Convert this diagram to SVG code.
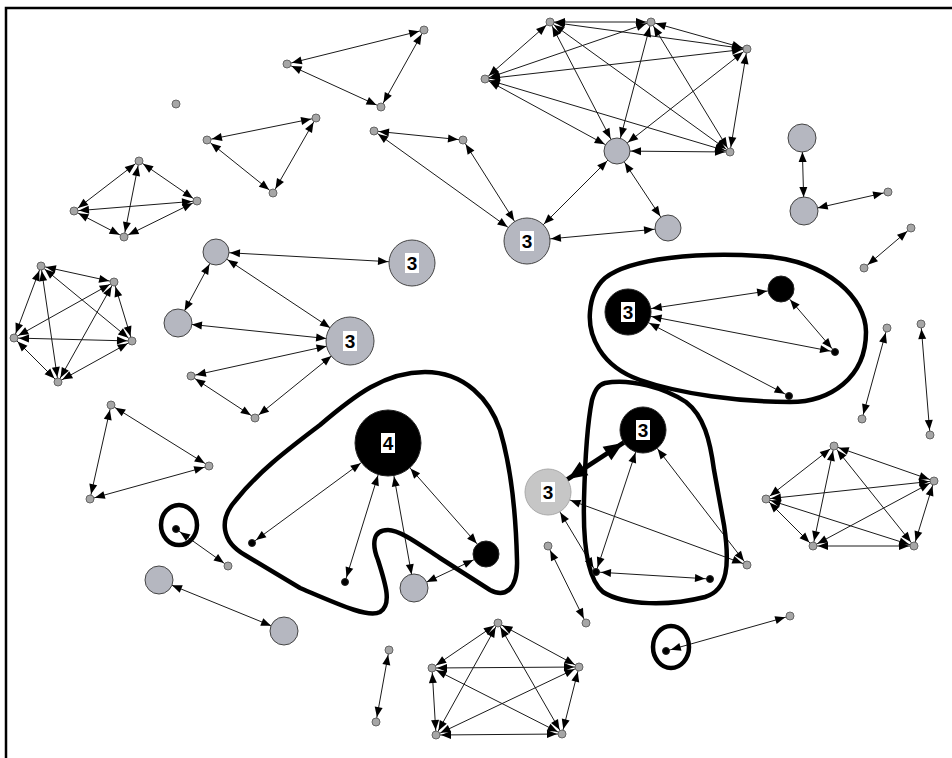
<svg xmlns="http://www.w3.org/2000/svg" width="952" height="758" viewBox="0 0 952 758">
<style>
#connectors line{stroke:#1a1a1a;stroke-width:1;marker-start:url(#as);marker-end:url(#as)}
#connectors line.ms{marker-start:url(#am)}
#connectors line.me{marker-end:url(#am)}
#connectors line.ls{marker-start:url(#al)}
#connectors line.le{marker-end:url(#al)}
#connectors line.xs{marker-start:url(#ax)}
#connectors line.thick{stroke:#000;stroke-width:4.5;marker-start:url(#bt);marker-end:url(#bt)}
.sn{fill:#a6a6a6;stroke:#666;stroke-width:1}
.mn{fill:#b5b7c0;stroke:#444;stroke-width:1}
.bn{fill:#000;stroke:#222;stroke-width:1}
.lt{fill:#c6c6c6;stroke:#aaa;stroke-width:1}
.lbl{fill:#fff}
text{font-family:"Liberation Sans",Arial,sans-serif;font-weight:bold;font-size:19px;text-anchor:middle;fill:#000}
.hull{fill:none;stroke:#000;stroke-width:4.5}
.frame{stroke:#000;stroke-width:2.5;fill:none}
</style>
<defs>
<marker id="as" markerUnits="userSpaceOnUse" orient="auto-start-reverse" overflow="visible" markerWidth="1" markerHeight="1"><path d="M-15,-4 L-5,0 L-15,4 Z" fill="#000"/></marker>
<marker id="am" markerUnits="userSpaceOnUse" orient="auto-start-reverse" overflow="visible" markerWidth="1" markerHeight="1"><path d="M-24,-4 L-14,0 L-24,4 Z" fill="#000"/></marker>
<marker id="al" markerUnits="userSpaceOnUse" orient="auto-start-reverse" overflow="visible" markerWidth="1" markerHeight="1"><path d="M-34,-4 L-24,0 L-34,4 Z" fill="#000"/></marker>
<marker id="ax" markerUnits="userSpaceOnUse" orient="auto-start-reverse" overflow="visible" markerWidth="1" markerHeight="1"><path d="M-44,-4 L-34,0 L-44,4 Z" fill="#000"/></marker>
<marker id="bt" markerUnits="userSpaceOnUse" orient="auto-start-reverse" overflow="visible" markerWidth="1" markerHeight="1"><path d="M-43,-8 L-24,0 L-43,8 Z" fill="#000"/></marker>
</defs>
<rect width="952" height="758" fill="#fff"/>
<path class="frame" d="M6,758 V8 H952"/>
<g id="connectors">
<line x1="139" y1="161" x2="74" y2="211"/>
<line x1="139" y1="161" x2="197" y2="201"/>
<line x1="139" y1="161" x2="124" y2="237"/>
<line x1="74" y1="211" x2="197" y2="201"/>
<line x1="74" y1="211" x2="124" y2="237"/>
<line x1="197" y1="201" x2="124" y2="237"/>
<line x1="287" y1="64" x2="424" y2="30"/>
<line x1="287" y1="64" x2="381" y2="107"/>
<line x1="424" y1="30" x2="381" y2="107"/>
<line x1="207" y1="140" x2="316" y2="118"/>
<line x1="207" y1="140" x2="273" y2="193"/>
<line x1="316" y1="118" x2="273" y2="193"/>
<line x1="374" y1="131" x2="463" y2="140"/>
<line class="le" x1="374" y1="131" x2="527" y2="241"/>
<line class="le" x1="463" y1="140" x2="527" y2="241"/>
<line x1="550" y1="22" x2="651" y2="22"/>
<line x1="550" y1="22" x2="485" y2="79"/>
<line x1="550" y1="22" x2="747" y2="49"/>
<line x1="550" y1="22" x2="730" y2="152"/>
<line class="me" x1="550" y1="22" x2="617" y2="151"/>
<line x1="651" y1="22" x2="485" y2="79"/>
<line x1="651" y1="22" x2="747" y2="49"/>
<line x1="651" y1="22" x2="730" y2="152"/>
<line class="me" x1="651" y1="22" x2="617" y2="151"/>
<line x1="485" y1="79" x2="747" y2="49"/>
<line x1="485" y1="79" x2="730" y2="152"/>
<line class="me" x1="485" y1="79" x2="617" y2="151"/>
<line x1="747" y1="49" x2="730" y2="152"/>
<line class="me" x1="747" y1="49" x2="617" y2="151"/>
<line class="me" x1="730" y1="152" x2="617" y2="151"/>
<line class="ms le" x1="617" y1="151" x2="527" y2="241"/>
<line class="ms me" x1="617" y1="151" x2="668" y2="228"/>
<line class="ls me" x1="527" y1="241" x2="668" y2="228"/>
<line class="ms me" x1="802" y1="138" x2="804" y2="211"/>
<line class="ms" x1="804" y1="211" x2="888" y2="192"/>
<line x1="911" y1="228" x2="864" y2="268"/>
<line x1="41" y1="266" x2="114" y2="282"/>
<line x1="41" y1="266" x2="14" y2="338"/>
<line x1="41" y1="266" x2="132" y2="341"/>
<line x1="41" y1="266" x2="58" y2="382"/>
<line x1="114" y1="282" x2="14" y2="338"/>
<line x1="114" y1="282" x2="132" y2="341"/>
<line x1="114" y1="282" x2="58" y2="382"/>
<line x1="14" y1="338" x2="132" y2="341"/>
<line x1="14" y1="338" x2="58" y2="382"/>
<line x1="132" y1="341" x2="58" y2="382"/>
<line class="ms le" x1="216" y1="252" x2="412" y2="263"/>
<line class="ms le" x1="216" y1="252" x2="350" y2="341"/>
<line class="ms me" x1="216" y1="252" x2="178" y2="323"/>
<line class="ms le" x1="178" y1="323" x2="350" y2="341"/>
<line class="le" x1="191" y1="376" x2="350" y2="341"/>
<line class="le" x1="255" y1="418" x2="350" y2="341"/>
<line x1="191" y1="376" x2="255" y2="418"/>
<line x1="111" y1="405" x2="209" y2="466"/>
<line x1="111" y1="405" x2="90" y2="499"/>
<line x1="209" y1="466" x2="90" y2="499"/>
<line x1="176" y1="529" x2="228" y2="566"/>
<line class="ms me" x1="159" y1="580" x2="284" y2="631"/>
<line class="xs" x1="388" y1="443" x2="252" y2="543"/>
<line class="xs" x1="388" y1="443" x2="345" y2="582"/>
<line class="xs me" x1="388" y1="443" x2="414" y2="588"/>
<line class="xs me" x1="388" y1="443" x2="486" y2="554"/>
<line class="ms me" x1="414" y1="588" x2="486" y2="554"/>
<line class="ls me" x1="628" y1="312" x2="781" y2="289"/>
<line class="ls" x1="628" y1="312" x2="835" y2="352"/>
<line class="ls" x1="628" y1="312" x2="789" y2="396"/>
<line class="ms" x1="781" y1="289" x2="835" y2="352"/>
<line class="thick" x1="548" y1="492" x2="643" y2="430"/>
<line class="ls" x1="643" y1="430" x2="596" y2="572"/>
<line class="ls" x1="643" y1="430" x2="747" y2="565"/>
<line x1="596" y1="572" x2="710" y2="579"/>
<line class="ls" x1="548" y1="492" x2="747" y2="565"/>
<line class="ls" x1="548" y1="492" x2="596" y2="572"/>
<line x1="548" y1="546" x2="586" y2="623"/>
<line x1="666" y1="651" x2="790" y2="616"/>
<line x1="887" y1="328" x2="862" y2="419"/>
<line x1="921" y1="324" x2="930" y2="435"/>
<line x1="834" y1="446" x2="934" y2="481"/>
<line x1="834" y1="446" x2="766" y2="499"/>
<line x1="834" y1="446" x2="813" y2="546"/>
<line x1="834" y1="446" x2="914" y2="546"/>
<line x1="934" y1="481" x2="766" y2="499"/>
<line x1="934" y1="481" x2="813" y2="546"/>
<line x1="934" y1="481" x2="914" y2="546"/>
<line x1="766" y1="499" x2="813" y2="546"/>
<line x1="766" y1="499" x2="914" y2="546"/>
<line x1="813" y1="546" x2="914" y2="546"/>
<line x1="498" y1="623" x2="432" y2="668"/>
<line x1="498" y1="623" x2="579" y2="667"/>
<line x1="498" y1="623" x2="436" y2="735"/>
<line x1="498" y1="623" x2="562" y2="734"/>
<line x1="432" y1="668" x2="579" y2="667"/>
<line x1="432" y1="668" x2="436" y2="735"/>
<line x1="432" y1="668" x2="562" y2="734"/>
<line x1="579" y1="667" x2="436" y2="735"/>
<line x1="579" y1="667" x2="562" y2="734"/>
<line x1="436" y1="735" x2="562" y2="734"/>
<line x1="389" y1="650" x2="376" y2="722"/>
</g>
<g id="hulls">
<path class="hull" d="M425,372 C465,372 490,400 500,430 C512,470 516,520 517,560 C518,590 505,598 490,590 L440,558 C420,545 400,530 388,530 C372,530 372,545 378,560 C386,585 392,605 380,612 C368,618 340,605 300,588 L245,555 C222,542 218,520 236,500 C260,470 290,448 320,425 C355,395 385,372 425,372 Z"/>
<path class="hull" d="M605,278 C630,258 700,252 760,256 C830,260 866,300 866,332 C866,378 830,402 790,402 C740,402 680,394 640,380 C600,366 588,335 590,312 C591,298 596,286 605,278 Z"/>
<path class="hull" d="M605,383 C630,378 665,388 686,402 C704,416 710,440 714,470 L724,525 C730,565 728,590 705,597 C670,606 625,606 603,592 C586,578 583,540 584,500 C585,460 588,420 592,400 C595,390 598,385 605,383 Z"/>
<ellipse class="hull" cx="179" cy="525" rx="18" ry="20"/>
<ellipse class="hull" cx="671" cy="647" rx="18" ry="21"/>
</g>
<g id="nodes">
<g id="n1"><circle class="sn" cx="176" cy="104" r="4"/></g>
<g id="k1"><circle class="sn" cx="139" cy="161" r="4"/></g>
<g id="k2"><circle class="sn" cx="74" cy="211" r="4"/></g>
<g id="k3"><circle class="sn" cx="197" cy="201" r="4"/></g>
<g id="k4"><circle class="sn" cx="124" cy="237" r="4"/></g>
<g id="a1"><circle class="sn" cx="287" cy="64" r="4"/></g>
<g id="a2"><circle class="sn" cx="424" cy="30" r="4"/></g>
<g id="a3"><circle class="sn" cx="381" cy="107" r="4"/></g>
<g id="d1"><circle class="sn" cx="207" cy="140" r="4"/></g>
<g id="d2"><circle class="sn" cx="316" cy="118" r="4"/></g>
<g id="d3"><circle class="sn" cx="273" cy="193" r="4"/></g>
<g id="g1"><circle class="sn" cx="374" cy="131" r="4"/></g>
<g id="h1"><circle class="sn" cx="463" cy="140" r="4"/></g>
<g id="c6a"><circle class="sn" cx="550" cy="22" r="4"/></g>
<g id="c6b"><circle class="sn" cx="651" cy="22" r="4"/></g>
<g id="c6c"><circle class="sn" cx="485" cy="79" r="4"/></g>
<g id="c6d"><circle class="sn" cx="747" cy="49" r="4"/></g>
<g id="c6e"><circle class="sn" cx="730" cy="152" r="4"/></g>
<g id="c6f"><circle class="mn" cx="617" cy="151" r="13"/></g>
<g id="n3a"><circle class="mn" cx="527" cy="241" r="23"/><rect class="lbl" x="520" y="231" width="14" height="20"/><text x="527" y="248">3</text></g>
<g id="m1"><circle class="mn" cx="668" cy="228" r="13"/></g>
<g id="r1"><circle class="mn" cx="802" cy="138" r="14"/></g>
<g id="r2"><circle class="mn" cx="804" cy="211" r="14"/></g>
<g id="r3"><circle class="sn" cx="888" cy="192" r="4"/></g>
<g id="r4"><circle class="sn" cx="911" cy="228" r="4"/></g>
<g id="r5"><circle class="sn" cx="864" cy="268" r="4"/></g>
<g id="p1"><circle class="sn" cx="41" cy="266" r="4"/></g>
<g id="p2"><circle class="sn" cx="114" cy="282" r="4"/></g>
<g id="p3"><circle class="sn" cx="14" cy="338" r="4"/></g>
<g id="p4"><circle class="sn" cx="132" cy="341" r="4"/></g>
<g id="p5"><circle class="sn" cx="58" cy="382" r="4"/></g>
<g id="m2"><circle class="mn" cx="216" cy="252" r="13"/></g>
<g id="m3"><circle class="mn" cx="178" cy="323" r="14"/></g>
<g id="n3b"><circle class="mn" cx="412" cy="263" r="23"/><rect class="lbl" x="405" y="253" width="14" height="20"/><text x="412" y="270">3</text></g>
<g id="n3c"><circle class="mn" cx="350" cy="341" r="24"/><rect class="lbl" x="343" y="331" width="14" height="20"/><text x="350" y="348">3</text></g>
<g id="s1"><circle class="sn" cx="191" cy="376" r="4"/></g>
<g id="s2"><circle class="sn" cx="255" cy="418" r="4"/></g>
<g id="t1"><circle class="sn" cx="111" cy="405" r="4"/></g>
<g id="t2"><circle class="sn" cx="209" cy="466" r="4"/></g>
<g id="t3"><circle class="sn" cx="90" cy="499" r="4"/></g>
<g id="u1"><circle class="bn" cx="176" cy="529" r="3.5"/></g>
<g id="u2"><circle class="sn" cx="228" cy="566" r="4"/></g>
<g id="m4"><circle class="mn" cx="159" cy="580" r="14"/></g>
<g id="m5"><circle class="mn" cx="284" cy="631" r="14"/></g>
<g id="n4"><circle class="bn" cx="388" cy="443" r="33"/><rect class="lbl" x="381" y="433" width="14" height="20"/><text x="388" y="450">4</text></g>
<g id="b1"><circle class="bn" cx="252" cy="543" r="3.5"/></g>
<g id="b2"><circle class="bn" cx="345" cy="582" r="3.5"/></g>
<g id="b3"><circle class="bn" cx="486" cy="554" r="13"/></g>
<g id="m6"><circle class="mn" cx="414" cy="588" r="14"/></g>
<g id="n3d"><circle class="bn" cx="628" cy="312" r="23"/><rect class="lbl" x="621" y="302" width="14" height="20"/><text x="628" y="319">3</text></g>
<g id="b4"><circle class="bn" cx="781" cy="289" r="13"/></g>
<g id="b5"><circle class="bn" cx="835" cy="352" r="3.5"/></g>
<g id="b6"><circle class="bn" cx="789" cy="396" r="3.5"/></g>
<g id="n3e"><circle class="bn" cx="643" cy="430" r="23"/><rect class="lbl" x="636" y="420" width="14" height="20"/><text x="643" y="437">3</text></g>
<g id="n3f"><circle class="lt" cx="548" cy="492" r="23"/><rect class="lbl" x="541" y="482" width="14" height="20"/><text x="548" y="499">3</text></g>
<g id="b7"><circle class="bn" cx="596" cy="572" r="3.5"/></g>
<g id="b8"><circle class="bn" cx="710" cy="579" r="3.5"/></g>
<g id="v1"><circle class="sn" cx="747" cy="565" r="4"/></g>
<g id="v2"><circle class="sn" cx="548" cy="546" r="4"/></g>
<g id="v3"><circle class="sn" cx="586" cy="623" r="4"/></g>
<g id="b9"><circle class="bn" cx="666" cy="651" r="3.5"/></g>
<g id="v4"><circle class="sn" cx="790" cy="616" r="4"/></g>
<g id="w1"><circle class="sn" cx="887" cy="328" r="4"/></g>
<g id="w2"><circle class="sn" cx="862" cy="419" r="4"/></g>
<g id="w3"><circle class="sn" cx="921" cy="324" r="4"/></g>
<g id="w4"><circle class="sn" cx="930" cy="435" r="4"/></g>
<g id="q1"><circle class="sn" cx="834" cy="446" r="4"/></g>
<g id="q2"><circle class="sn" cx="934" cy="481" r="4"/></g>
<g id="q3"><circle class="sn" cx="766" cy="499" r="4"/></g>
<g id="q4"><circle class="sn" cx="813" cy="546" r="4"/></g>
<g id="q5"><circle class="sn" cx="914" cy="546" r="4"/></g>
<g id="z1"><circle class="sn" cx="498" cy="623" r="4"/></g>
<g id="z2"><circle class="sn" cx="432" cy="668" r="4"/></g>
<g id="z3"><circle class="sn" cx="579" cy="667" r="4"/></g>
<g id="z4"><circle class="sn" cx="436" cy="735" r="4"/></g>
<g id="z5"><circle class="sn" cx="562" cy="734" r="4"/></g>
<g id="x1"><circle class="sn" cx="389" cy="650" r="4"/></g>
<g id="x2"><circle class="sn" cx="376" cy="722" r="4"/></g>
</g>
</svg>
